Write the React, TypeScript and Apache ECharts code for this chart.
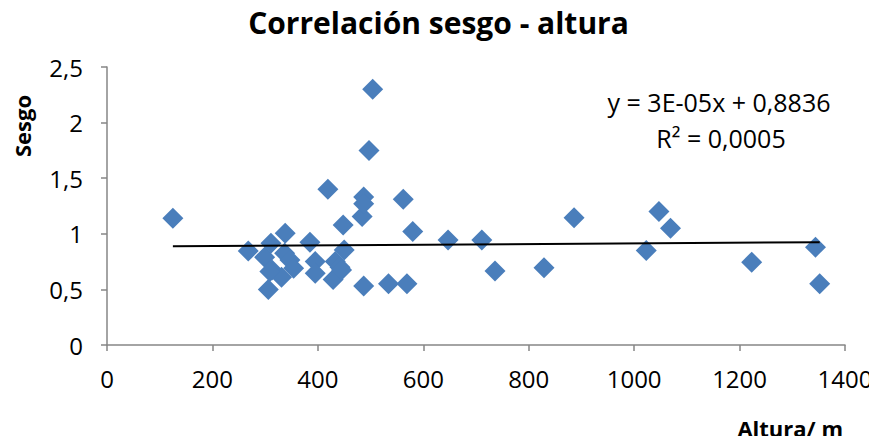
import React, { useEffect, useRef } from "react";
import * as echarts from "echarts";

const altura = [125, 268, 299, 306, 311, 313, 331, 337, 338, 347, 354, 309, 385, 395, 395, 419, 429, 433, 442, 445, 448, 450, 484, 487, 487, 487, 497, 504, 534, 562, 569, 580, 647, 711, 736, 829, 886, 1023, 1047, 1069, 1223, 1344, 1352];
const sesgo = [1.14, 0.845, 0.79, 0.5, 0.915, 0.675, 0.61, 0.825, 1.005, 0.765, 0.69, 0.66, 0.925, 0.75, 0.645, 1.4, 0.59, 0.75, 0.7, 0.675, 1.08, 0.855, 1.155, 1.33, 1.27, 0.53, 1.75, 2.3, 0.55, 1.31, 0.55, 1.02, 0.945, 0.945, 0.665, 0.695, 1.145, 0.85, 1.2, 1.05, 0.745, 0.88, 0.55];
const trendX = [125, 1352];
const trendY = [0.8874, 0.9242];
const xTicks = [0, 200, 400, 600, 800, 1000, 1200, 1400];
const yTicks = [0, 0.5, 1, 1.5, 2, 2.5];

const FONT = "'Open Sans', sans-serif";

export default function App() {
  const ref = useRef<HTMLDivElement>(null);
  useEffect(() => {
    if (!ref.current) return;
    const chart = echarts.init(ref.current, null, { renderer: "svg" });
    const fmt = (v: number) => String(v).replace(".", ",");
    chart.setOption({
      animation: false,
      backgroundColor: "#ffffff",
      title: {
        text: "Correlación sesgo - altura",
        left: "center",
        top: 2,
        textStyle: { fontFamily: FONT, fontWeight: "bold", fontSize: 30, color: "#000" },
      },
      grid: { left: 107, right: 32, top: 67, bottom: 99 },
      xAxis: {
        type: "value",
        min: xTicks[0],
        max: xTicks[xTicks.length - 1],
        interval: 200,
        axisLine: { show: true, lineStyle: { color: "#868686", width: 1.5 } },
        axisTick: { show: true, length: 6, lineStyle: { color: "#868686", width: 1.5 } },
        splitLine: { show: false },
        axisLabel: { fontFamily: FONT, fontSize: 24, color: "#000", margin: 21, formatter: (v: number) => String(v) },
      },
      yAxis: {
        type: "value",
        min: yTicks[0],
        max: yTicks[yTicks.length - 1],
        interval: 0.5,
        axisLine: { show: true, lineStyle: { color: "#868686", width: 1.5 } },
        axisTick: { show: true, length: 6, lineStyle: { color: "#868686", width: 1.5 } },
        splitLine: { show: false },
        axisLabel: { fontFamily: FONT, fontSize: 24, color: "#000", margin: 24, formatter: fmt },
      },
      graphic: [
        {
          type: "text",
          x: 22,
          y: 126,
          rotation: Math.PI / 2,
          style: { text: "Sesgo", font: `bold 22px ${FONT}`, fill: "#000", textAlign: "center", textVerticalAlign: "middle" },
        },
        {
          type: "text",
          x: 843,
          y: 428,
          style: { text: "Altura/ m", font: `bold 22px ${FONT}`, fill: "#000", textAlign: "right", textVerticalAlign: "middle" },
        },
        {
          type: "text",
          x: 719,
          y: 102,
          style: { text: "y = 3E-05x + 0,8836", font: `25px ${FONT}`, fill: "#000", textAlign: "center", textVerticalAlign: "middle" },
        },
        {
          type: "text",
          x: 721,
          y: 138,
          style: { text: "R² = 0,0005", font: `25px ${FONT}`, fill: "#000", textAlign: "center", textVerticalAlign: "middle" },
        },
      ],
      series: [
        {
          type: "line",
          data: trendX.map((x, i) => [x, trendY[i]]),
          symbol: "none",
          lineStyle: { color: "#000", width: 2 },
          z: 3,
        },
        {
          type: "scatter",
          data: altura.map((x, i) => [x, sesgo[i]]),
          symbol: "diamond",
          symbolSize: [21, 21],
          itemStyle: { color: "#4A7EBB", opacity: 1 },
          z: 2,
        },
      ],
    });
    return () => chart.dispose();
  }, []);
  return <div ref={ref} style={{ width: 877, height: 444, margin: -8 }} />;
}
